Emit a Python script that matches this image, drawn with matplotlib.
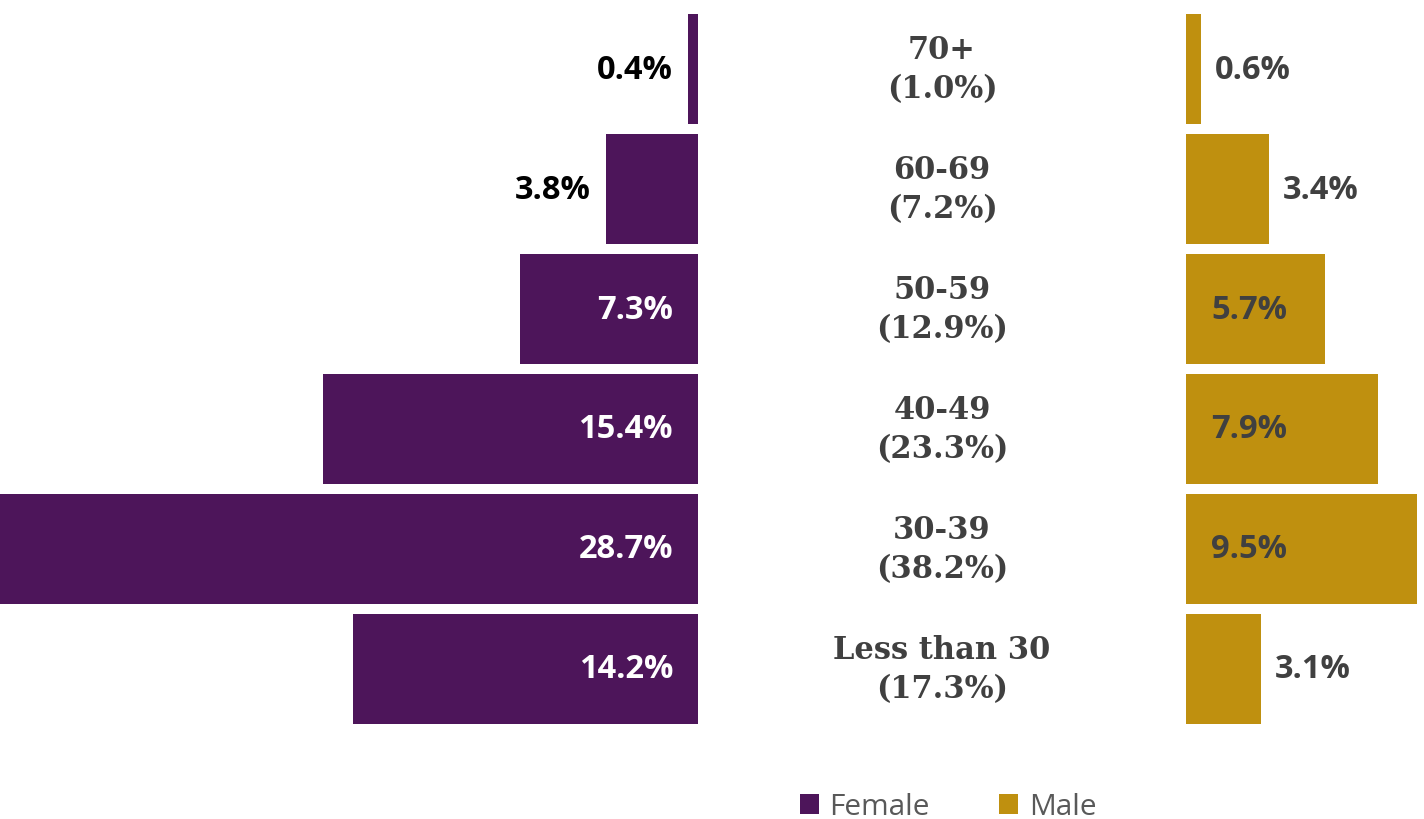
import matplotlib
matplotlib.use("Agg")
import matplotlib.pyplot as plt
import numpy as np

# rows from bottom to top
AGE_GROUPS = ["Less than 30", "30-39", "40-49", "50-59", "60-69", "70+"]
TOTAL_PCT = [17.3, 38.2, 23.3, 12.9, 7.2, 1.0]
FEMALE_PCT = [14.2, 28.7, 15.4, 7.3, 3.8, 0.4]
MALE_PCT = [3.1, 9.5, 7.9, 5.7, 3.4, 0.6]

PURPLE = "#4D155A"
GOLD = "#BF900F"
DARK = "#404040"

W, H = 1424, 820
fig = plt.figure(figsize=(W / 100, H / 100), dpi=100)
fig.patch.set_facecolor("white")

px_per_pct = 698 / max(FEMALE_PCT)
bottom = 1 - 730 / H
height = 720 / H

ax_f = fig.add_axes([0, bottom, 698 / W, height])
ax_m = fig.add_axes([1186 / W, bottom, (W - 1186) / W, height])
ax_c = fig.add_axes([698 / W, bottom, (1186 - 698) / W, height])

y = np.arange(len(AGE_GROUPS))
bar_h = 110 / 120

bf = ax_f.barh(y, FEMALE_PCT, height=bar_h, color=PURPLE, label="Female")
bm = ax_m.barh(y, MALE_PCT, height=bar_h, color=GOLD, label="Male")

ax_f.set_xlim(max(FEMALE_PCT), 0)
ax_m.set_xlim(0, (W - 1186) / px_per_pct)
for ax in (ax_f, ax_m, ax_c):
    ax.set_ylim(-0.5, len(AGE_GROUPS) - 0.5)
    ax.axis("off")
ax_c.set_xlim(0, 1)

lab_font = dict(family="Open Sans", fontsize=23.5, fontweight="bold")
for yi, v in zip(y, FEMALE_PCT):
    if v > 5:
        ax_f.annotate(f"{v}%", (0, yi), xytext=(-18, 0), textcoords="offset points",
                      ha="right", va="center", color="white", **lab_font)
    else:
        ax_f.annotate(f"{v}%", (v, yi), xytext=(-11, 0), textcoords="offset points",
                      ha="right", va="center", color="black", **lab_font)

for yi, v in zip(y, MALE_PCT):
    if v > 5:
        ax_m.annotate(f"{v}%", (0, yi), xytext=(18, 0), textcoords="offset points",
                      ha="left", va="center", color=DARK, **lab_font)
    else:
        ax_m.annotate(f"{v}%", (v, yi), xytext=(10, 0), textcoords="offset points",
                      ha="left", va="center", color=DARK, **lab_font)

for yi, g, t in zip(y, AGE_GROUPS, TOTAL_PCT):
    ax_c.text(0.5, yi, f"{g}\n({t}%)", ha="center", va="center", color=DARK,
              family="DejaVu Serif", fontsize=22, fontweight="bold", linespacing=1.3)

leg = fig.legend(handles=[bf, bm], loc="center", bbox_to_anchor=(948 / W, 1 - 808 / H),
                 ncol=2, frameon=False, handlelength=0.65, handleheight=0.65,
                 handletextpad=0.35, columnspacing=2.3, prop={"family": "Open Sans", "size": 21.5})
for text in leg.get_texts():
    text.set_color("#595959")

fig.savefig("out.png", dpi=100, facecolor="white")
